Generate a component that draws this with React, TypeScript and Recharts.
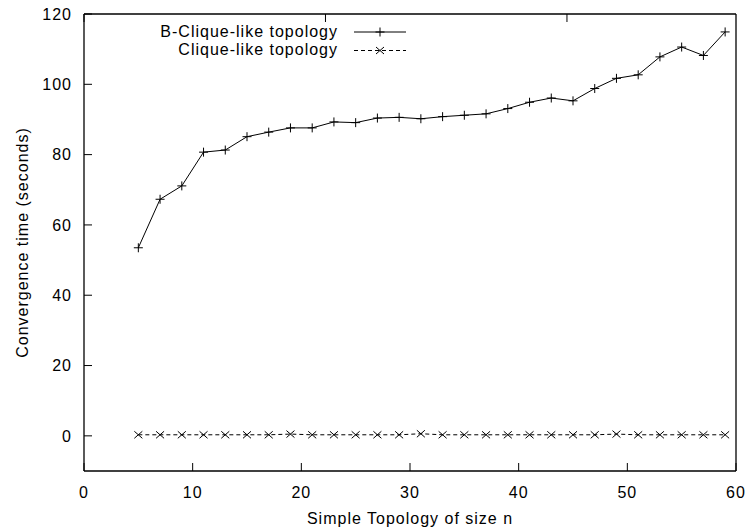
import { Legend, Line, LineChart, XAxis, YAxis } from "recharts";

const sizes = [5, 7, 9, 11, 13, 15, 17, 19, 21, 23, 25, 27, 29, 31, 33, 35, 37, 39, 41, 43, 45, 47, 49, 51, 53, 55, 57, 59];
const bCliqueTimes = [
  53.5, 67.3, 71.1, 80.7, 81.3, 85.1, 86.4, 87.6, 87.6, 89.3, 89.1, 90.4, 90.6, 90.2,
  90.8, 91.2, 91.6, 93.1, 94.9, 96.1, 95.3, 98.8, 101.7, 102.7, 107.8, 110.6, 108.2, 114.9
];
const cliqueTimes = [
  0.3, 0.3, 0.3, 0.3, 0.3, 0.3, 0.3, 0.5, 0.3, 0.3, 0.3, 0.3, 0.3, 0.6,
  0.3, 0.3, 0.3, 0.3, 0.3, 0.3, 0.3, 0.3, 0.5, 0.3, 0.3, 0.3, 0.3, 0.3
];
const seriesNames = ["B-Clique-like topology", "Clique-like topology"];
const xTicks = [0, 10, 20, 30, 40, 50, 60];
const yTicks = [0, 20, 40, 60, 80, 100, 120];

const rows = sizes.map((n, i) => ({ n, bClique: bCliqueTimes[i], clique: cliqueTimes[i] }));

const font = "'Liberation Sans', Arial, Helvetica, sans-serif";
const textStyle = { fontFamily: font, fontSize: 16, letterSpacing: 1, fill: "#000" };

function Plus(props: any) {
  const { cx, cy } = props;
  if (cx == null || cy == null) return <g />;
  return <path d={`M${cx - 4.5},${cy}H${cx + 4.5}M${cx},${cy - 4.5}V${cy + 4.5}`} stroke="#000" strokeWidth={1} fill="none" />;
}

function Cross(props: any) {
  const { cx, cy } = props;
  if (cx == null || cy == null) return <g />;
  return <path d={`M${cx - 4},${cy - 3.5}L${cx + 4},${cy + 3.5}M${cx - 4},${cy + 3.5}L${cx + 4},${cy - 3.5}`} stroke="#000" strokeWidth={1} fill="none" />;
}

function LegendBox() {
  return (
    <svg width={748} height={64} style={{ display: "block" }}>
      <text x={338} y={36.5} textAnchor="end" style={textStyle}>{seriesNames[0]}</text>
      <line x1={354} x2={406} y1={32} y2={32} stroke="#000" />
      <Plus cx={380} cy={32} />
      <text x={338} y={55} textAnchor="end" style={textStyle}>{seriesNames[1]}</text>
      <line x1={354} x2={406} y1={50.5} y2={50.5} stroke="#000" strokeDasharray="4 3" />
      <Cross cx={380} cy={50.5} />
    </svg>
  );
}

const noTick = () => <g />;

export default function App() {
  return (
    <div style={{ position: "fixed", left: 0, top: 0, width: 748, height: 531, background: "#fff" }}>
      <LineChart width={748} height={531} data={rows} margin={{ top: 0, right: 0, bottom: 0, left: 0 }}>
        <XAxis
          dataKey="n"
          type="number"
          domain={[0, 60]}
          ticks={xTicks}
          interval={0}
          height={60}
          tickSize={-8}
          tickMargin={24}
          axisLine={{ stroke: "#000", strokeWidth: 1.3 }}
          tickLine={{ stroke: "#000" }}
          tick={textStyle}
          label={{ value: "Simple Topology of size n", position: "insideBottom", offset: 7, style: textStyle }}
        />
        <XAxis
          xAxisId="top"
          orientation="top"
          type="number"
          domain={[0, 60]}
          ticks={xTicks}
          interval={0}
          height={14}
          tickSize={-8}
          axisLine={{ stroke: "#000", strokeWidth: 1.3 }}
          tickLine={{ stroke: "#000" }}
          tick={noTick}
        />
        <YAxis
          type="number"
          domain={[-10, 120]}
          ticks={yTicks}
          interval={0}
          width={84}
          tickSize={-8}
          tickMargin={20}
          axisLine={{ stroke: "#000", strokeWidth: 1.3 }}
          tickLine={{ stroke: "#000" }}
          tick={textStyle}
          label={{
            content: (p: any) => {
              const vb = p.viewBox || { x: 0, y: 14, width: 84, height: 457 };
              const cx = vb.x + 28;
              const cy = vb.y + vb.height / 2;
              return (
                <text x={cx} y={cy} transform={`rotate(-90 ${cx} ${cy})`} textAnchor="middle" style={textStyle}>
                  Convergence time (seconds)
                </text>
              );
            }
          }}
        />
        <YAxis
          yAxisId="right"
          orientation="right"
          type="number"
          domain={[-10, 120]}
          ticks={yTicks}
          interval={0}
          width={12}
          tickSize={-8}
          axisLine={{ stroke: "#000", strokeWidth: 1.3 }}
          tickLine={{ stroke: "#000" }}
          tick={noTick}
        />
        <Legend
          layout="horizontal"
          verticalAlign="middle"
          align="center"
          wrapperStyle={{ top: 0, left: 0, width: 748, height: 64 }}
          content={() => <LegendBox />}
        />
        <Line
          dataKey="bClique"
          name={seriesNames[0]}
          stroke="#000"
          strokeWidth={1}
          dot={(p: any) => <Plus key={`b${p.index}`} {...p} />}
          activeDot={false}
          isAnimationActive={false}
        />
        <Line
          dataKey="clique"
          name={seriesNames[1]}
          stroke="#000"
          strokeWidth={1}
          strokeDasharray="4 3"
          dot={(p: any) => <Cross key={`c${p.index}`} {...p} />}
          activeDot={false}
          isAnimationActive={false}
        />
      </LineChart>
    </div>
  );
}
